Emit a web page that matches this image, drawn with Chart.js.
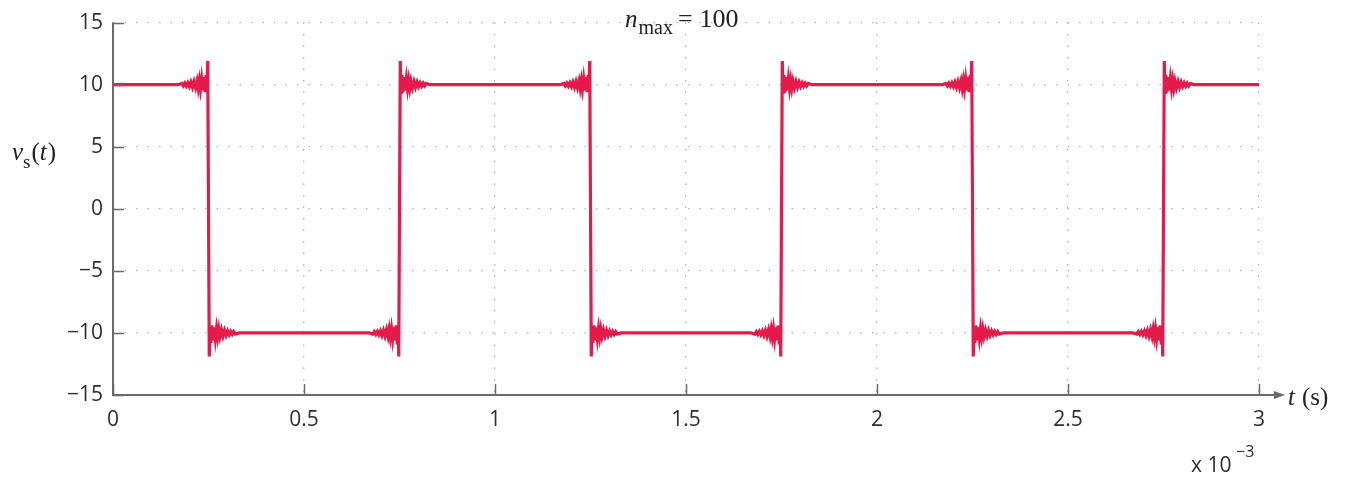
<!DOCTYPE html>
<html>
<head>
<meta charset="utf-8">
<script src="https://cdn.jsdelivr.net/npm/chart.js@4.4.1/dist/chart.umd.min.js"></script>
<style>
  html, body { margin: 0; padding: 0; background: #fff; }
  #wrap { width: 1352px; height: 481px; }
</style>
</head>
<body>
<div id="wrap"><canvas id="squareWave" width="1352" height="481"></canvas></div>
<script>
// time in ms (axis shows x 10^-3 s), voltage in V
const timeMs = [
    0,
    0.17, 0.18, 0.184, 0.188, 0.192, 0.196, 0.2, 0.204, 0.208, 0.212, 0.216, 0.22, 0.223, 0.226, 0.229, 0.232, 0.235, 0.238, 0.241, 0.244, 0.246, 0.248,
    0.25,
    0.252, 0.254, 0.256, 0.259, 0.262, 0.265, 0.268, 0.271, 0.274, 0.277, 0.28, 0.284, 0.288, 0.292, 0.296, 0.3, 0.304, 0.308, 0.312, 0.316, 0.32, 0.33,
    0.67, 0.68, 0.684, 0.688, 0.692, 0.696, 0.7, 0.704, 0.708, 0.712, 0.716, 0.72, 0.723, 0.726, 0.729, 0.732, 0.735, 0.738, 0.741, 0.744, 0.746, 0.748,
    0.75,
    0.752, 0.754, 0.756, 0.759, 0.762, 0.765, 0.768, 0.771, 0.774, 0.777, 0.78, 0.784, 0.788, 0.792, 0.796, 0.8, 0.804, 0.808, 0.812, 0.816, 0.82, 0.83,
    1.17, 1.18, 1.184, 1.188, 1.192, 1.196, 1.2, 1.204, 1.208, 1.212, 1.216, 1.22, 1.223, 1.226, 1.229, 1.232, 1.235, 1.238, 1.241, 1.244, 1.246, 1.248,
    1.25,
    1.252, 1.254, 1.256, 1.259, 1.262, 1.265, 1.268, 1.271, 1.274, 1.277, 1.28, 1.284, 1.288, 1.292, 1.296, 1.3, 1.304, 1.308, 1.312, 1.316, 1.32, 1.33,
    1.67, 1.68, 1.684, 1.688, 1.692, 1.696, 1.7, 1.704, 1.708, 1.712, 1.716, 1.72, 1.723, 1.726, 1.729, 1.732, 1.735, 1.738, 1.741, 1.744, 1.746, 1.748,
    1.75,
    1.752, 1.754, 1.756, 1.759, 1.762, 1.765, 1.768, 1.771, 1.774, 1.777, 1.78, 1.784, 1.788, 1.792, 1.796, 1.8, 1.804, 1.808, 1.812, 1.816, 1.82, 1.83,
    2.17, 2.18, 2.184, 2.188, 2.192, 2.196, 2.2, 2.204, 2.208, 2.212, 2.216, 2.22, 2.223, 2.226, 2.229, 2.232, 2.235, 2.238, 2.241, 2.244, 2.246, 2.248,
    2.25,
    2.252, 2.254, 2.256, 2.259, 2.262, 2.265, 2.268, 2.271, 2.274, 2.277, 2.28, 2.284, 2.288, 2.292, 2.296, 2.3, 2.304, 2.308, 2.312, 2.316, 2.32, 2.33,
    2.67, 2.68, 2.684, 2.688, 2.692, 2.696, 2.7, 2.704, 2.708, 2.712, 2.716, 2.72, 2.723, 2.726, 2.729, 2.732, 2.735, 2.738, 2.741, 2.744, 2.746, 2.748,
    2.75,
    2.752, 2.754, 2.756, 2.759, 2.762, 2.765, 2.768, 2.771, 2.774, 2.777, 2.78, 2.784, 2.788, 2.792, 2.796, 2.8, 2.804, 2.808, 2.812, 2.816, 2.82, 2.83,
    3
];
const voltage = [
    10,
    10, 10.1, 9.9, 10.12, 9.88, 10.15, 9.85, 10.2, 9.8, 10.25, 9.75, 10.3, 9.7, 10.35, 9.65, 10.45, 9.55, 10.6, 9.4, 10.8, 9.4, 11.9,
    0,
    -11.9, -9.4, -10.8, -9.4, -10.6, -9.55, -10.45, -9.65, -10.35, -9.7, -10.3, -9.75, -10.25, -9.8, -10.2, -9.85, -10.15, -9.88, -10.12, -9.9, -10.1, -10,
    -10, -10.1, -9.9, -10.12, -9.88, -10.15, -9.85, -10.2, -9.8, -10.25, -9.75, -10.3, -9.7, -10.35, -9.65, -10.45, -9.55, -10.6, -9.4, -10.8, -9.4, -11.9,
    0,
    11.9, 9.4, 10.8, 9.4, 10.6, 9.55, 10.45, 9.65, 10.35, 9.7, 10.3, 9.75, 10.25, 9.8, 10.2, 9.85, 10.15, 9.88, 10.12, 9.9, 10.1, 10,
    10, 10.1, 9.9, 10.12, 9.88, 10.15, 9.85, 10.2, 9.8, 10.25, 9.75, 10.3, 9.7, 10.35, 9.65, 10.45, 9.55, 10.6, 9.4, 10.8, 9.4, 11.9,
    0,
    -11.9, -9.4, -10.8, -9.4, -10.6, -9.55, -10.45, -9.65, -10.35, -9.7, -10.3, -9.75, -10.25, -9.8, -10.2, -9.85, -10.15, -9.88, -10.12, -9.9, -10.1, -10,
    -10, -10.1, -9.9, -10.12, -9.88, -10.15, -9.85, -10.2, -9.8, -10.25, -9.75, -10.3, -9.7, -10.35, -9.65, -10.45, -9.55, -10.6, -9.4, -10.8, -9.4, -11.9,
    0,
    11.9, 9.4, 10.8, 9.4, 10.6, 9.55, 10.45, 9.65, 10.35, 9.7, 10.3, 9.75, 10.25, 9.8, 10.2, 9.85, 10.15, 9.88, 10.12, 9.9, 10.1, 10,
    10, 10.1, 9.9, 10.12, 9.88, 10.15, 9.85, 10.2, 9.8, 10.25, 9.75, 10.3, 9.7, 10.35, 9.65, 10.45, 9.55, 10.6, 9.4, 10.8, 9.4, 11.9,
    0,
    -11.9, -9.4, -10.8, -9.4, -10.6, -9.55, -10.45, -9.65, -10.35, -9.7, -10.3, -9.75, -10.25, -9.8, -10.2, -9.85, -10.15, -9.88, -10.12, -9.9, -10.1, -10,
    -10, -10.1, -9.9, -10.12, -9.88, -10.15, -9.85, -10.2, -9.8, -10.25, -9.75, -10.3, -9.7, -10.35, -9.65, -10.45, -9.55, -10.6, -9.4, -10.8, -9.4, -11.9,
    0,
    11.9, 9.4, 10.8, 9.4, 10.6, 9.55, 10.45, 9.65, 10.35, 9.7, 10.3, 9.75, 10.25, 9.8, 10.2, 9.85, 10.15, 9.88, 10.12, 9.9, 10.1, 10,
    10
];
const xTicks = [0, 0.5, 1, 1.5, 2, 2.5, 3];
const yTicks = [-15, -10, -5, 0, 5, 10, 15];

const AXIS_COLOR = '#6a6a6a';
const TEXT_COLOR = '#2e2e2e';
const SANS = '"Open Sans", "DejaVu Sans", sans-serif';
const SERIF = '"Liberation Serif", "DejaVu Serif", serif';

// axes with inward ticks, arrow on t axis, and the math-style labels
const decorations = {
    id: 'decorations',
    afterDraw(chart) {
        const { ctx, chartArea: a, scales } = chart;
        const x = scales.x, y = scales.y;
        ctx.save();
        ctx.strokeStyle = AXIS_COLOR;
        ctx.fillStyle = AXIS_COLOR;
        ctx.lineWidth = 2;
        ctx.beginPath();
        ctx.moveTo(a.left, a.top);
        ctx.lineTo(a.left, a.bottom);
        ctx.lineTo(a.right + 20, a.bottom);
        ctx.stroke();
        ctx.beginPath();
        ctx.moveTo(a.right + 26, a.bottom);
        ctx.lineTo(a.right + 15, a.bottom - 4);
        ctx.lineTo(a.right + 15, a.bottom + 4);
        ctx.closePath();
        ctx.fill();

        ctx.lineWidth = 1.5;
        ctx.beginPath();
        y.ticks.forEach(t => {
            const py = Math.round(y.getPixelForValue(t.value)) + 0.5;
            ctx.moveTo(a.left, py);
            ctx.lineTo(a.left + 11, py);
        });
        x.ticks.forEach(t => {
            const px = Math.round(x.getPixelForValue(t.value)) + 0.5;
            ctx.moveTo(px, a.bottom);
            ctx.lineTo(px, a.bottom - 11);
        });
        ctx.stroke();

        ctx.fillStyle = '#222';
        ctx.textBaseline = 'alphabetic';
        ctx.textAlign = 'left';

        // n_max = 100
        let cx = 625;
        ctx.font = 'italic 25px ' + SERIF;
        ctx.fillText('n', cx, 27);
        cx += ctx.measureText('n').width + 1;
        ctx.font = '20px ' + SERIF;
        ctx.fillText('max', cx, 34);
        cx += ctx.measureText('max').width + 5;
        ctx.font = '26px ' + SERIF;
        ctx.fillText('=', cx, 27);
        cx += ctx.measureText('=').width + 7;
        ctx.fillText('100', cx, 27);

        // v_s(t)
        cx = 12;
        ctx.font = 'italic 25px ' + SERIF;
        ctx.fillText('v', cx, 160);
        cx += ctx.measureText('v').width;
        ctx.font = '19px ' + SERIF;
        ctx.fillText('s', cx, 168);
        cx += ctx.measureText('s').width + 1;
        ctx.font = '25px ' + SERIF;
        ctx.fillText('(', cx, 160);
        cx += ctx.measureText('(').width;
        ctx.font = 'italic 25px ' + SERIF;
        ctx.fillText('t', cx, 160);
        cx += ctx.measureText('t').width + 1;
        ctx.font = '25px ' + SERIF;
        ctx.fillText(')', cx, 160);

        // t (s)
        cx = 1288;
        ctx.font = 'italic 25px ' + SERIF;
        ctx.fillText('t', cx, 405);
        cx += ctx.measureText('t').width + 7;
        ctx.font = '25px ' + SERIF;
        ctx.fillText('(s)', cx, 405);

        // x 10^-3
        ctx.fillStyle = TEXT_COLOR;
        ctx.font = '21px ' + SANS;
        ctx.fillText('x 10', 1191, 472);
        ctx.font = '16px ' + SANS;
        ctx.fillText('\u22123', 1236, 457);
        ctx.restore();
    }
};

new Chart(document.getElementById('squareWave'), {
    type: 'line',
    data: {
        datasets: [{
            label: 'vs(t)',
            data: timeMs.map((t, i) => ({ x: t, y: voltage[i] })),
            borderColor: '#e6194b',
            borderWidth: 3.2,
            pointRadius: 0,
            tension: 0,
            fill: false
        }]
    },
    options: {
        responsive: false,
        animation: false,
        events: [],
        layout: { padding: { top: 18, right: 93, bottom: 0, left: 0 } },
        plugins: {
            legend: { display: false },
            tooltip: { enabled: false }
        },
        scales: {
            x: {
                type: 'linear',
                min: 0,
                max: 3,
                afterBuildTicks: scale => { scale.ticks = xTicks.map(v => ({ value: v })); },
                afterFit: scale => { scale.height = 86; },
                grid: { color: '#b0b0b0', lineWidth: 1.3, drawTicks: false },
                border: { display: false, dash: [1.5, 10] },
                ticks: {
                    padding: 12,
                    color: TEXT_COLOR,
                    font: { family: SANS, size: 21 },
                    callback: v => String(v)
                }
            },
            y: {
                min: -15,
                max: 15,
                afterBuildTicks: scale => { scale.ticks = yTicks.map(v => ({ value: v })); },
                afterFit: scale => { scale.width = 113; },
                grid: { color: '#b0b0b0', lineWidth: 1.3, drawTicks: false },
                border: { display: false, dash: [1.5, 10] },
                ticks: {
                    padding: 10,
                    color: TEXT_COLOR,
                    font: { family: SANS, size: 21 },
                    callback: v => String(v).replace('-', '\u2212')
                }
            }
        }
    },
    plugins: [decorations]
});
</script>
</body>
</html>
